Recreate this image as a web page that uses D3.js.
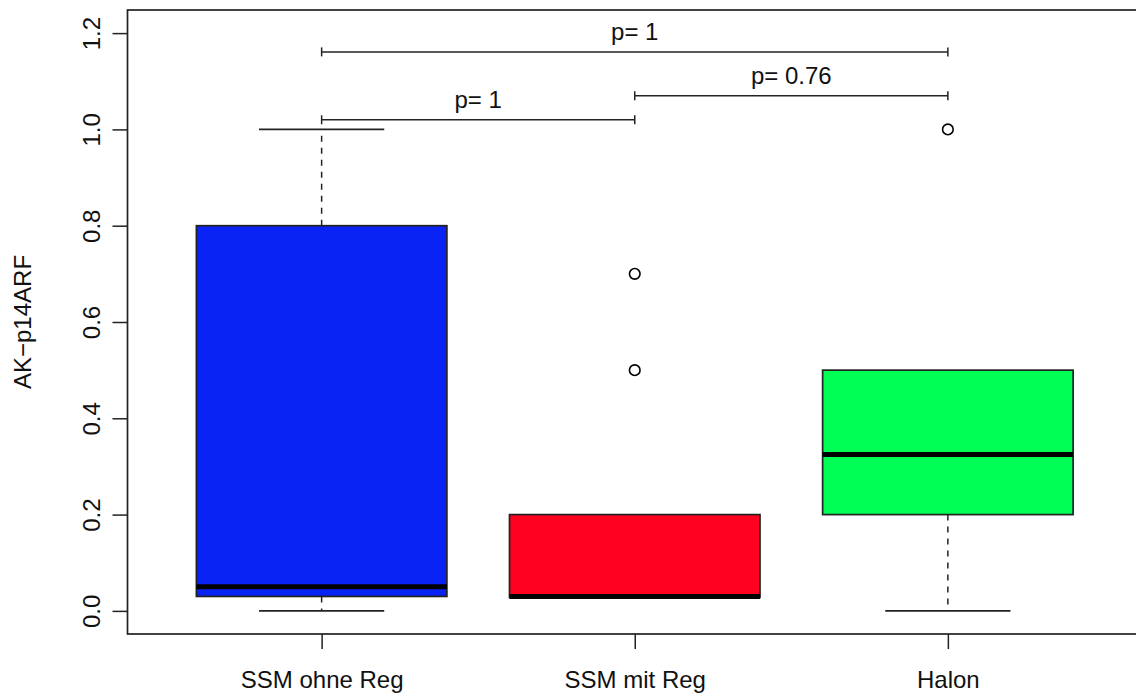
<!DOCTYPE html>
<html>
<head>
<meta charset="utf-8">
<script src="https://cdn.jsdelivr.net/npm/d3@7"></script>
<style>
  html, body { margin: 0; padding: 0; background: #fff; }
  svg { display: block; font-family: "Liberation Sans", Arial, Helvetica, sans-serif; }
</style>
</head>
<body>
<svg id="chart" width="1136" height="694"></svg>
<script>
// Groups and their box-plot statistics
const groups   = ["SSM ohne Reg", "SSM mit Reg", "Halon"];
const fills    = ["#0a23f5", "#ff001e", "#00ff55"];
const whiskLo  = [0.0, 0.03, 0.0];
const q1       = [0.03, 0.028, 0.2];
const medians  = [0.05, 0.03, 0.325];
const q3       = [0.8, 0.2, 0.5];
const whiskHi  = [1.0, 0.2, 0.5];
const outliers = [[], [0.7, 0.5], [1.0]];

// Pairwise comparisons drawn as brackets above the boxes
const pairFrom   = [0, 1, 0];
const pairTo     = [1, 2, 2];
const pairLevel  = [1.02, 1.07, 1.161];
const pairLabels = ["p= 1", "p= 0.76", "p= 1"];

const yTicks = [0, 0.2, 0.4, 0.6, 0.8, 1.0, 1.2];
const yLabel = "AK\u2212p14ARF";

const svg = d3.select("#chart");
const plot = { left: 127.5, right: 1142, top: 10, bottom: 634 };

const x = d3.scaleLinear().domain([0.38, 3.62]).range([plot.left, plot.right]);
const y = d3.scaleLinear().domain([-0.048, 1.248]).range([plot.bottom, plot.top]);

const boxHalf = 0.4, capHalf = 0.2;
const stroke = "#222";

groups.forEach((g, i) => {
  const cx = x(i + 1);
  const gG = svg.append("g");
  // whiskers (dashed)
  if (whiskHi[i] > q3[i]) {
    gG.append("line").attr("x1", cx).attr("x2", cx).attr("y1", y(q3[i])).attr("y2", y(whiskHi[i]))
      .attr("stroke", stroke).attr("stroke-width", 1.5).attr("stroke-dasharray", "6,6");
  }
  if (whiskLo[i] < q1[i]) {
    gG.append("line").attr("x1", cx).attr("x2", cx).attr("y1", y(q1[i])).attr("y2", y(whiskLo[i]))
      .attr("stroke", stroke).attr("stroke-width", 1.5).attr("stroke-dasharray", "6,6");
  }
  // whisker caps
  [whiskLo[i], whiskHi[i]].forEach((v, k) => {
    const inside = k === 0 ? v >= q1[i] : v <= q3[i];
    if (inside) return;
    gG.append("line").attr("x1", x(i + 1 - capHalf)).attr("x2", x(i + 1 + capHalf))
      .attr("y1", y(v)).attr("y2", y(v)).attr("stroke", stroke).attr("stroke-width", 1.7);
  });
  // box
  gG.append("rect")
    .attr("x", x(i + 1 - boxHalf)).attr("width", x(i + 1 + boxHalf) - x(i + 1 - boxHalf))
    .attr("y", y(q3[i])).attr("height", y(q1[i]) - y(q3[i]))
    .attr("fill", fills[i]).attr("stroke", stroke).attr("stroke-width", 1.7);
  // median
  gG.append("line").attr("x1", x(i + 1 - boxHalf)).attr("x2", x(i + 1 + boxHalf))
    .attr("y1", y(medians[i])).attr("y2", y(medians[i]))
    .attr("stroke", "#000").attr("stroke-width", 5);
  // outliers
  outliers[i].forEach(v => {
    gG.append("circle").attr("cx", cx).attr("cy", y(v)).attr("r", 5.3)
      .attr("fill", "none").attr("stroke", "#000").attr("stroke-width", 1.6);
  });
});

// comparison brackets
pairFrom.forEach((a, k) => {
  const b = pairTo[k];
  const yy = y(pairLevel[k]);
  const x1 = x(a + 1), x2 = x(b + 1);
  const br = svg.append("g").attr("stroke", stroke).attr("stroke-width", 1.5);
  br.append("line").attr("x1", x1).attr("x2", x2).attr("y1", yy).attr("y2", yy);
  br.append("line").attr("x1", x1).attr("x2", x1).attr("y1", yy - 4.5).attr("y2", yy + 4.5);
  br.append("line").attr("x1", x2).attr("x2", x2).attr("y1", yy - 4.5).attr("y2", yy + 4.5);
  svg.append("text").attr("x", (x1 + x2) / 2).attr("y", yy - 12)
    .attr("text-anchor", "middle").attr("font-size", 24).attr("fill", "#111")
    .text(pairLabels[k]);
});

// plot frame
svg.append("rect").attr("x", plot.left).attr("y", plot.top)
  .attr("width", plot.right - plot.left).attr("height", plot.bottom - plot.top)
  .attr("fill", "none").attr("stroke", stroke).attr("stroke-width", 1.7);

// y axis
const yAxis = d3.axisLeft(y).tickValues(yTicks).tickFormat(d3.format(".1f"))
  .tickSize(15).tickPadding(0);
const ya = svg.append("g").attr("transform", `translate(${plot.left},0)`).call(yAxis);
ya.select(".domain").remove();
ya.selectAll(".tick line").attr("stroke", stroke).attr("stroke-width", 1.5);
ya.selectAll(".tick text")
  .attr("font-size", 24).attr("fill", "#111").attr("font-family", "Liberation Sans, Arial, sans-serif")
  .attr("text-anchor", "middle").attr("x", 0).attr("dy", 0)
  .attr("transform", "translate(-36,0) rotate(-90)")
  .attr("y", 0).attr("dominant-baseline", "central");

// x axis
const xAxis = d3.axisBottom(x).tickValues([1, 2, 3]).tickFormat((d) => groups[d - 1])
  .tickSize(15).tickPadding(22);
const xa = svg.append("g").attr("transform", `translate(0,${plot.bottom})`).call(xAxis);
xa.select(".domain").remove();
xa.selectAll(".tick line").attr("stroke", stroke).attr("stroke-width", 1.5);
xa.selectAll(".tick text").attr("font-size", 24).attr("fill", "#111")
  .attr("font-family", "Liberation Sans, Arial, sans-serif");

// y label
svg.append("text")
  .attr("transform", `translate(31,${(plot.top + plot.bottom) / 2}) rotate(-90)`)
  .attr("text-anchor", "middle").attr("font-size", 24).attr("fill", "#111")
  .text(yLabel);
</script>
</body>
</html>
